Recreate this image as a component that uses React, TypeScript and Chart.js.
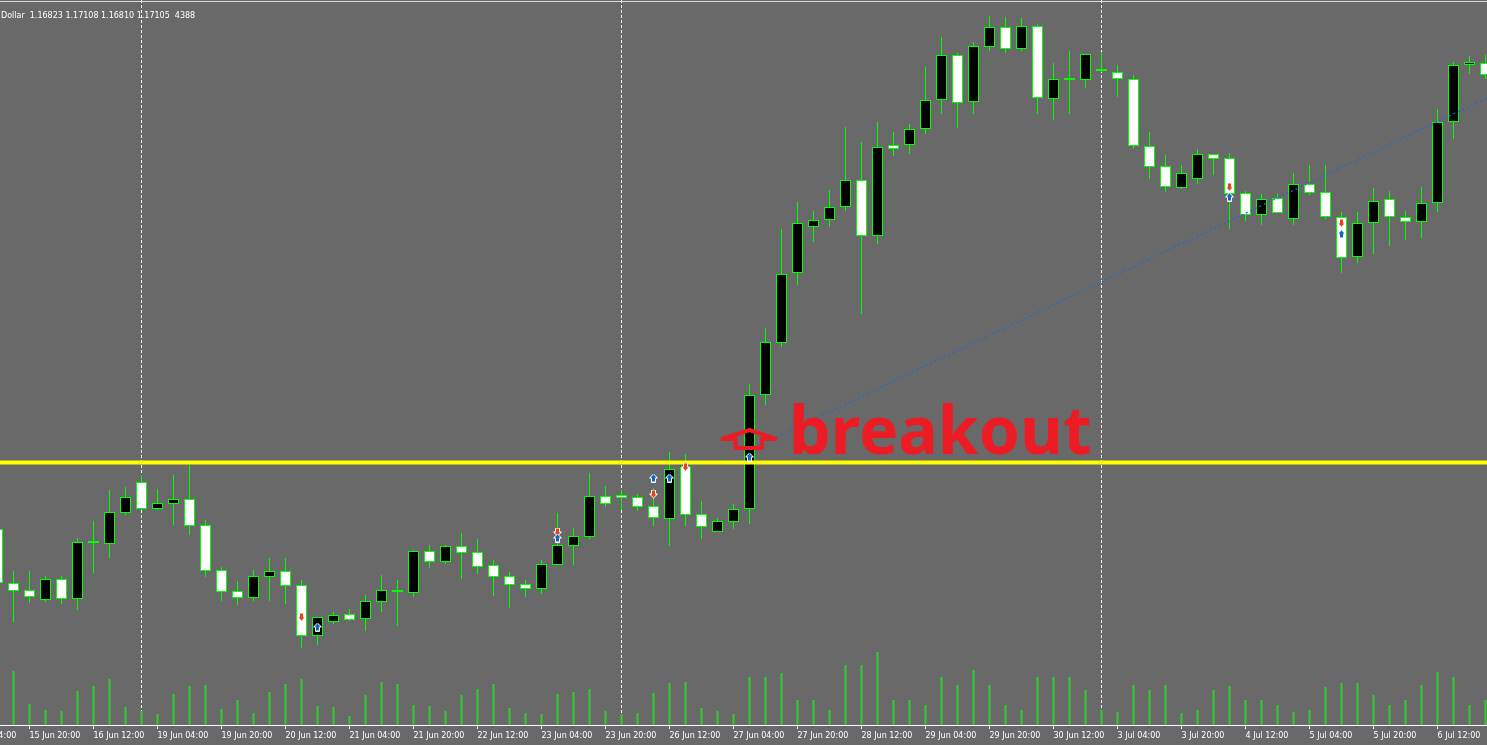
import React, { useEffect, useRef } from 'react';
import { Chart, registerables } from 'chart.js';

Chart.register(...registerables);

// ---- data (H4 bars, first entry is bar number -1) ----
const firstBar = -1;
const opens = [
  1.11855, 1.11585, 1.11550, 1.11500, 1.11605, 1.11505, 1.11785, 1.11780, 1.11935, 1.12090,
  1.11955, 1.11980, 1.12005, 1.11875, 1.11650, 1.11545, 1.11510, 1.11615, 1.11645, 1.11575,
  1.11320, 1.11390, 1.11430, 1.11405, 1.11490, 1.11540, 1.11535, 1.11745, 1.11690, 1.11770,
  1.11740, 1.11675, 1.11620, 1.11580, 1.11555, 1.11675, 1.11770, 1.11815, 1.12020, 1.12025,
  1.12015, 1.11970, 1.11905, 1.12165, 1.11930, 1.11840, 1.11890, 1.11955, 1.12525, 1.12785,
  1.13135, 1.13365, 1.13400, 1.13465, 1.13600, 1.13320, 1.13775, 1.13775, 1.13855, 1.14000,
  1.14225, 1.13990, 1.14265, 1.14365, 1.14255, 1.14370, 1.14005, 1.14100, 1.14100, 1.14145,
  1.14140, 1.14105, 1.13770, 1.13670, 1.13560, 1.13605, 1.13730, 1.13710, 1.13535, 1.13425,
  1.13510, 1.13405, 1.13580, 1.13540, 1.13415, 1.13215, 1.13385, 1.13505, 1.13415, 1.13390,
  1.13485, 1.13890, 1.14175, 1.14185,
];
const highs = [
  1.11875, 1.11645, 1.11645, 1.11620, 1.11620, 1.11810, 1.11895, 1.12050, 1.12065, 1.12125,
  1.12055, 1.12125, 1.12175, 1.11900, 1.11665, 1.11595, 1.11650, 1.11710, 1.11710, 1.11600,
  1.11415, 1.11440, 1.11455, 1.11525, 1.11625, 1.11600, 1.11750, 1.11775, 1.11775, 1.11835,
  1.11805, 1.11700, 1.11640, 1.11600, 1.11700, 1.11935, 1.11860, 1.12135, 1.12070, 1.12050,
  1.12030, 1.12060, 1.12240, 1.12230, 1.11995, 1.11910, 1.11980, 1.12580, 1.12860, 1.13355,
  1.13490, 1.13445, 1.13550, 1.13865, 1.13790, 1.13890, 1.13840, 1.13880, 1.14165, 1.14315,
  1.14235, 1.14290, 1.14420, 1.14415, 1.14410, 1.14380, 1.14185, 1.14245, 1.14230, 1.14240,
  1.14175, 1.14125, 1.13840, 1.13725, 1.13675, 1.13755, 1.13730, 1.13735, 1.13545, 1.13530,
  1.13535, 1.13635, 1.13675, 1.13675, 1.13440, 1.13440, 1.13560, 1.13545, 1.13445, 1.13565,
  1.13955, 1.14190, 1.14220, 1.14225,
];
const lows = [
  1.11560, 1.11390, 1.11485, 1.11490, 1.11480, 1.11450, 1.11635, 1.11710, 1.11925, 1.11950,
  1.11950, 1.11875, 1.11825, 1.11615, 1.11495, 1.11475, 1.11495, 1.11495, 1.11480, 1.11260,
  1.11275, 1.11380, 1.11395, 1.11345, 1.11440, 1.11370, 1.11515, 1.11660, 1.11680, 1.11605,
  1.11630, 1.11520, 1.11460, 1.11515, 1.11530, 1.11675, 1.11675, 1.11805, 1.11965, 1.11950,
  1.11945, 1.11870, 1.11770, 1.11870, 1.11805, 1.11840, 1.11855, 1.11880, 1.12475, 1.12765,
  1.13075, 1.13290, 1.13365, 1.13445, 1.12930, 1.13280, 1.13720, 1.13730, 1.13830, 1.13930,
  1.13860, 1.13930, 1.14245, 1.14235, 1.14245, 1.13930, 1.13900, 1.13930, 1.14060, 1.14140,
  1.14015, 1.13755, 1.13605, 1.13540, 1.13555, 1.13580, 1.13625, 1.13355, 1.13395, 1.13375,
  1.13435, 1.13375, 1.13525, 1.13405, 1.13135, 1.13185, 1.13230, 1.13270, 1.13300, 1.13310,
  1.13440, 1.13805, 1.14130, 1.14105,
];
const closes = [
  1.11585, 1.11545, 1.11515, 1.11605, 1.11505, 1.11790, 1.11785, 1.11940, 1.12015, 1.11955,
  1.11985, 1.12005, 1.11870, 1.11645, 1.11540, 1.11510, 1.11620, 1.11645, 1.11570, 1.11320,
  1.11415, 1.11425, 1.11400, 1.11495, 1.11550, 1.11540, 1.11745, 1.11690, 1.11770, 1.11735,
  1.11665, 1.11615, 1.11575, 1.11555, 1.11680, 1.11775, 1.11820, 1.12020, 1.11980, 1.12010,
  1.11965, 1.11910, 1.12155, 1.11925, 1.11865, 1.11895, 1.11955, 1.12525, 1.12790, 1.13130,
  1.13385, 1.13400, 1.13465, 1.13600, 1.13320, 1.13765, 1.13755, 1.13855, 1.14000, 1.14225,
  1.13985, 1.14270, 1.14365, 1.14255, 1.14370, 1.14010, 1.14105, 1.14100, 1.14230, 1.14145,
  1.14105, 1.13770, 1.13665, 1.13565, 1.13635, 1.13730, 1.13705, 1.13530, 1.13425, 1.13505,
  1.13435, 1.13580, 1.13535, 1.13415, 1.13210, 1.13385, 1.13495, 1.13415, 1.13390, 1.13485,
  1.13890, 1.14175, 1.14190, 1.14125,
];
const volumes = [
  12000,
  21600, 8400, 6000, 5600, 13600, 15600, 18400, 7200, 5600, 4400,
  12400, 15600, 16000, 6400, 10000, 4800, 13200, 16400, 18400, 7600,
  7200, 3600, 12000, 17200, 16400, 8000, 7600, 5600, 12000, 14400,
  16400, 6800, 4800, 4400, 12400, 13200, 14400, 5600, 4400, 4800,
  12800, 16800, 17200, 6800, 5600, 4400,
  19200, 19200, 20800, 10000, 10000, 6000, 24000, 24000, 29200, 10000,
  10000, 8000, 19200, 16000, 22000, 16000, 8000, 6000, 19200, 19200,
  19200, 14000, 6000, 5200, 16000, 14000, 16000, 4800, 6000, 14000,
  15600, 10000, 10000, 8000, 5200, 6000, 15200, 16800, 16800, 12000,
  8000, 10000, 16000, 21200, 19200, 8000, 10000,
];

// time axis
const tickBars = [-3, 1, 5, 9, 13, 17, 21, 25, 29, 33, 37, 41, 45, 49, 53, 57, 61, 65, 69, 73, 77, 81, 85, 89];
const tickLabels = [
  '15 Jun 04:00', '15 Jun 20:00', '16 Jun 12:00', '19 Jun 04:00', '19 Jun 20:00', '20 Jun 12:00',
  '21 Jun 04:00', '21 Jun 20:00', '22 Jun 12:00', '23 Jun 04:00', '23 Jun 20:00', '26 Jun 12:00',
  '27 Jun 04:00', '27 Jun 20:00', '28 Jun 12:00', '29 Jun 04:00', '29 Jun 20:00', '30 Jun 12:00',
  '3 Jul 04:00', '3 Jul 20:00', '4 Jul 12:00', '5 Jul 04:00', '5 Jul 20:00', '6 Jul 12:00',
];
const weekSeparators = [8, 38, 68];

// horizontal level & trade line
const levelBars = [-2, 94];
const levelPrices = [1.12188, 1.12188];
const tradeLineBars = [46, 93];
const tradeLinePrices = [1.12250, 1.14045];

// trade arrows
const buyArrowBars = [19, 34, 40, 41, 46, 76, 83];
const buyArrowPrices = [1.11365, 1.11810, 1.12110, 1.12110, 1.12215, 1.13515, 1.13330];
const sellArrowBars = [18, 34, 40, 42, 76, 83];
const sellArrowPrices = [1.11415, 1.11840, 1.12030, 1.12165, 1.13565, 1.13385];

// annotations
const breakoutArrow = { bar: 46, price: 1.12350 };
const breakoutText = { text: 'breakout', bar: 48.47, price: 1.12230 };
const headerText = 'Dollar  1.16823 1.17108 1.16810 1.17105  4388';

const BG = '#696969';
const LIME = '#00ff00';

function makeArrow(up: boolean, fill: string): HTMLCanvasElement {
  const c = document.createElement('canvas');
  c.width = 9;
  c.height = 9;
  const g = c.getContext('2d')!;
  const pts = [
    [4.5, 0.5], [8.5, 4.5], [6.5, 4.5], [6.5, 8.5], [2.5, 8.5], [2.5, 4.5], [0.5, 4.5],
  ];
  g.beginPath();
  pts.forEach(([px, py], i) => {
    const yy = up ? py : 9 - py;
    if (i === 0) g.moveTo(px, yy);
    else g.lineTo(px, yy);
  });
  g.closePath();
  g.fillStyle = fill;
  g.fill();
  g.strokeStyle = '#ffffff';
  g.lineWidth = 1;
  g.stroke();
  return c;
}

const overlayPlugin = {
  id: 'mtOverlay',
  beforeDraw(chart: any) {
    const { ctx, width, height } = chart;
    ctx.save();
    ctx.fillStyle = BG;
    ctx.fillRect(0, 0, width, height);
    ctx.restore();
  },
  beforeDatasetsDraw(chart: any) {
    const { ctx, chartArea } = chart;
    const xs = chart.scales.x;
    ctx.save();
    ctx.strokeStyle = '#ffffff';
    ctx.lineWidth = 1;
    ctx.setLineDash([3, 2]);
    weekSeparators.forEach((b) => {
      const px = Math.floor(xs.getPixelForValue(b)) + 0.5;
      ctx.beginPath();
      ctx.moveTo(px, chartArea.top);
      ctx.lineTo(px, chartArea.bottom);
      ctx.stroke();
    });
    ctx.restore();
  },
  afterDatasetsDraw(chart: any) {
    const { ctx } = chart;
    const xs = chart.scales.x;
    const ys = chart.scales.y;
    // hollow red arrow
    const cx = xs.getPixelForValue(breakoutArrow.bar);
    const ay = ys.getPixelForValue(breakoutArrow.price);
    ctx.save();
    ctx.strokeStyle = '#ed1c24';
    ctx.lineWidth = 4;
    ctx.lineJoin = 'round';
    ctx.beginPath();
    ctx.moveTo(cx, ay);
    ctx.lineTo(cx + 26, ay + 9);
    ctx.lineTo(cx + 12.5, ay + 9);
    ctx.lineTo(cx + 12.5, ay + 18);
    ctx.lineTo(cx - 14, ay + 18);
    ctx.lineTo(cx - 14, ay + 9);
    ctx.lineTo(cx - 27, ay + 9);
    ctx.closePath();
    ctx.stroke();
    // text
    const tx = xs.getPixelForValue(breakoutText.bar);
    const ty = ys.getPixelForValue(breakoutText.price);
    ctx.fillStyle = '#ed1c24';
    ctx.font = 'bold 66px "Noto Sans", sans-serif';
    ctx.textBaseline = 'alphabetic';
    ctx.textAlign = 'left';
    ctx.fillText(breakoutText.text, tx, ty);
    ctx.restore();
  },
  afterDraw(chart: any) {
    const { ctx, width } = chart;
    ctx.save();
    ctx.fillStyle = '#d8d8d8';
    ctx.fillRect(0, 1, width, 1);
    ctx.fillStyle = '#ffffff';
    ctx.font = '8px "DejaVu Sans", sans-serif';
    ctx.textBaseline = 'alphabetic';
    ctx.textAlign = 'left';
    ctx.fillText(headerText, 1, 18);
    ctx.restore();
  },
};

export default function App() {
  const ref = useRef<HTMLCanvasElement>(null);

  useEffect(() => {
    document.body.style.margin = '0';
    document.body.style.background = BG;
    const bars = opens.map((_, i) => i + firstBar);
    const bodyColors = opens.map((o, i) =>
      closes[i] > o ? '#000000' : closes[i] < o ? '#ffffff' : LIME
    );
    const buyIcon = makeArrow(true, '#1464c0');
    const sellIcon = makeArrow(false, '#e8401c');

    const chart = new Chart(ref.current!, {
      type: 'bar',
      data: {
        datasets: [
          {
            type: 'line',
            label: 'buy',
            data: buyArrowBars.map((b, i) => ({ x: b, y: buyArrowPrices[i] })),
            showLine: false,
            pointStyle: buyIcon,
            pointRadius: 4,
            order: 0,
          } as any,
          {
            type: 'line',
            label: 'sell',
            data: sellArrowBars.map((b, i) => ({ x: b, y: sellArrowPrices[i] })),
            showLine: false,
            pointStyle: sellIcon,
            pointRadius: 4,
            order: 0,
          } as any,
          {
            type: 'line',
            label: 'level',
            data: levelBars.map((b, i) => ({ x: b, y: levelPrices[i] })),
            borderColor: '#ffff00',
            borderWidth: 4,
            pointRadius: 0,
            order: 1,
          } as any,
          {
            type: 'line',
            label: 'trade',
            data: tradeLineBars.map((b, i) => ({ x: b, y: tradeLinePrices[i] })),
            borderColor: '#1f6ad6',
            borderWidth: 1.3,
            borderDash: [2, 3],
            pointRadius: 0,
            order: 2,
          } as any,
          {
            type: 'bar',
            label: 'body',
            data: bars.map((b, i) => ({ x: b, y: [opens[i], closes[i]] })),
            backgroundColor: bodyColors,
            borderColor: LIME,
            borderWidth: 1,
            borderSkipped: false,
            barThickness: 11,
            minBarLength: 2,
            grouped: false,
            inflateAmount: 0,
            order: 3,
          } as any,
          {
            type: 'bar',
            label: 'wick',
            data: bars.map((b, i) => ({ x: b, y: [lows[i], highs[i]] })),
            backgroundColor: LIME,
            borderWidth: 0,
            barThickness: 1,
            grouped: false,
            inflateAmount: 0,
            order: 4,
          } as any,
          {
            type: 'bar',
            label: 'volume',
            yAxisID: 'yv',
            data: bars.map((b, i) => ({ x: b, y: volumes[i] })),
            backgroundColor: '#32cd32',
            borderWidth: 0,
            barThickness: 2,
            grouped: false,
            inflateAmount: 0,
            order: 5,
          } as any,
        ],
      },
      options: {
        responsive: false,
        maintainAspectRatio: false,
        devicePixelRatio: 1,
        animation: false,
        events: [],
        layout: { padding: 0, autoPadding: false } as any,
        plugins: {
          legend: { display: false },
          tooltip: { enabled: false },
          title: { display: false },
        },
        scales: {
          x: {
            type: 'linear',
            position: 'bottom',
            min: -0.84375,
            max: 92.09375,
            offset: false,
            bounds: 'data',
            grid: {
              display: true,
              offset: false,
              drawOnChartArea: false,
              drawTicks: true,
              tickLength: 4,
              color: '#ffffff',
            },
            border: { display: true, color: '#ffffff', width: 1 },
            ticks: {
              autoSkip: false,
              maxRotation: 0,
              minRotation: 0,
              align: 'start',
              color: '#ffffff',
              padding: 2,
              font: { family: '"DejaVu Sans", sans-serif', size: 8 },
              callback: (v: any) => {
                const j = tickBars.indexOf(Number(v));
                return j >= 0 ? tickLabels[j] : '';
              },
            },
            afterBuildTicks: (axis: any) => {
              axis.ticks = tickBars.map((v) => ({ value: v }));
            },
            afterFit: (axis: any) => {
              axis.height = 20;
              axis.paddingLeft = 0;
              axis.paddingRight = 0;
            },
          } as any,
          y: {
            type: 'linear',
            display: false,
            min: 1.10875,
            max: 1.145,
            beginAtZero: false,
            bounds: 'data',
          } as any,
          yv: {
            type: 'linear',
            display: false,
            min: 0,
            max: 290000,
            beginAtZero: true,
          } as any,
        },
      },
      plugins: [overlayPlugin],
    } as any);
    return () => chart.destroy();
  }, []);

  return (
    <div style={{ width: 1487, height: 745 }}>
      <canvas ref={ref} width={1487} height={745} style={{ display: 'block', width: 1487, height: 745 }} />
    </div>
  );
}
